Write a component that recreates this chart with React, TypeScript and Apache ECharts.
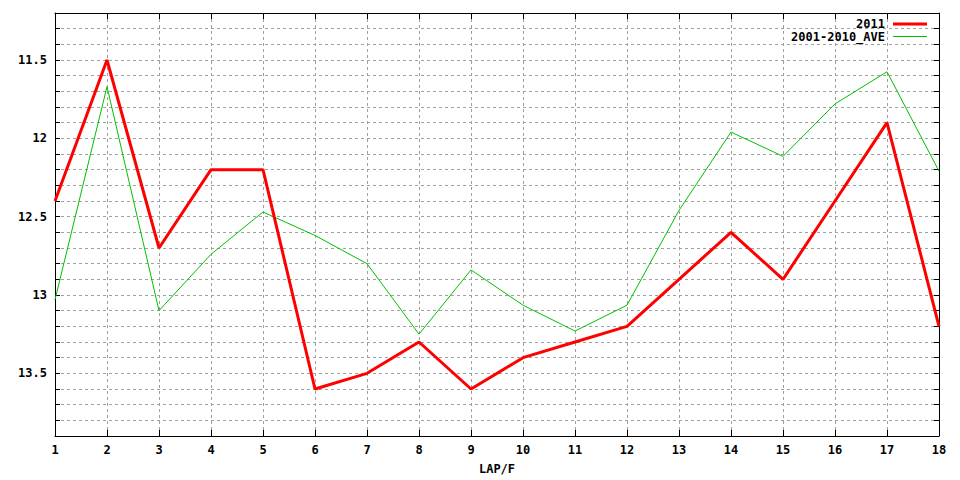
import React, { useEffect, useRef } from "react";
import * as echarts from "echarts";

const laps = [1, 2, 3, 4, 5, 6, 7, 8, 9, 10, 11, 12, 13, 14, 15, 16, 17, 18];
const series2011 = [12.4, 11.5, 12.7, 12.2, 12.2, 13.6, 13.5, 13.3, 13.6, 13.4, 13.3, 13.2, 12.9, 12.6, 12.9, 12.4, 11.9, 13.2];
const seriesAve = [13.03, 11.67, 13.1, 12.74, 12.47, 12.62, 12.8, 13.25, 12.84, 13.065, 13.23, 13.065, 12.46, 11.96, 12.115, 11.78, 11.575, 12.21];
const legendNames = ["2011", "2001-2010_AVE"];
const xName = "LAP/F";

const FONT = "DejaVu Sans Mono";
const GRID = { left: 55, right: 21, top: 13, bottom: 40 };

export default function App() {
  const ref = useRef<HTMLDivElement>(null);
  useEffect(() => {
    if (!ref.current) return;
    const chart = echarts.init(ref.current, null, { renderer: "svg" });
    const yFmt = (v: number) => {
      const d = v * 2;
      if (Math.abs(d - Math.round(d)) < 1e-6) return String(Number(v.toFixed(1)));
      return "";
    };
    const gridLine = { show: true, lineStyle: { color: "#a0a0a0", type: [3, 3] as any, width: 1 } };
    const axisLine = { show: true, onZero: false, lineStyle: { color: "#000", width: 1 } };
    const yBase = {
      type: "value" as const,
      min: 11.2,
      max: 13.9,
      interval: 0.1,
      inverse: true,
      axisLine,
      axisTick: { show: true, inside: true, length: 5, lineStyle: { color: "#000" } },
    };
    const xBase = {
      type: "value" as const,
      min: 1,
      max: 18,
      interval: 1,
      axisLine,
      axisTick: { show: true, inside: true, length: 6, lineStyle: { color: "#000" } },
    };
    chart.setOption({
      animation: false,
      backgroundColor: "#fff",
      grid: { ...GRID, containLabel: false },
      xAxis: [
        {
          ...xBase,
          position: "bottom",
          name: xName,
          nameLocation: "middle",
          nameGap: 27,
          nameTextStyle: { fontFamily: FONT, fontWeight: "bold", fontSize: 12, color: "#000" },
          axisLabel: { margin: 8, fontFamily: FONT, fontWeight: "bold", fontSize: 12, color: "#000" },
          splitLine: gridLine,
        },
        {
          ...xBase,
          position: "top",
          axisLabel: { show: false },
          splitLine: { show: false },
        },
      ],
      yAxis: [
        {
          ...yBase,
          position: "left",
          axisLabel: { margin: 8, formatter: yFmt, fontFamily: FONT, fontWeight: "bold", fontSize: 12, color: "#000" },
          splitLine: gridLine,
        },
        {
          ...yBase,
          position: "right",
          axisLabel: { show: false },
          splitLine: { show: false },
        },
      ],
      series: [
        {
          name: legendNames[0],
          type: "line",
          data: laps.map((x, i) => [x, series2011[i]]),
          showSymbol: false,
          lineStyle: { color: "#ff0000", width: 3 },
          z: 3,
        },
        {
          name: legendNames[1],
          type: "line",
          data: laps.map((x, i) => [x, seriesAve[i]]),
          showSymbol: false,
          lineStyle: { color: "#00c000", width: 1 },
          z: 2,
        },
      ],
      graphic: [
        {
          type: "text",
          right: 75,
          top: 18,
          style: { text: legendNames[0], font: `bold 12px "${FONT}"`, fill: "#000", textAlign: "right" },
        },
        {
          type: "line",
          shape: { x1: 893, y1: 24, x2: 927, y2: 24 },
          style: { stroke: "#ff0000", lineWidth: 3 },
        },
        {
          type: "text",
          right: 75,
          top: 31,
          style: { text: legendNames[1], font: `bold 12px "${FONT}"`, fill: "#000", textAlign: "right" },
        },
        {
          type: "line",
          shape: { x1: 893, y1: 36.5, x2: 927, y2: 36.5 },
          style: { stroke: "#00c000", lineWidth: 1 },
        },
      ],
    });
    return () => chart.dispose();
  }, []);
  return <div ref={ref} style={{ position: "absolute", left: 0, top: 0, width: 960, height: 480 }} />;
}
